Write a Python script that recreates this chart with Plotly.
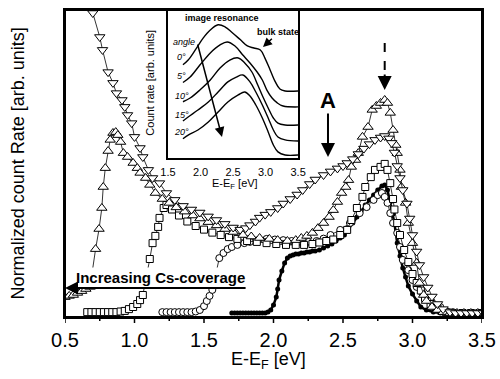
import plotly.graph_objects as go

# ---------------- main spectra: E-E_F [eV] vs normalized count rate ----------------
tri_down_x = [0.69, 0.70, 0.75, 0.77, 0.81, 0.845, 0.87, 0.91, 0.93, 0.95, 0.98, 1.00, 1.04, 1.06, 1.10, 1.13,
              1.18, 1.23, 1.29, 1.35, 1.41, 1.47, 1.53, 1.59, 1.65, 1.71, 1.76, 1.80, 1.83, 1.87, 1.90, 1.94,
              1.98, 2.03, 2.07, 2.12, 2.17, 2.21, 2.26, 2.30, 2.36, 2.41, 2.46, 2.50, 2.53, 2.57, 2.61, 2.65,
              2.69, 2.73, 2.77, 2.80, 2.83, 2.85, 2.87, 2.89, 2.91, 2.93, 2.96, 2.98, 3.00, 3.03, 3.05, 3.08,
              3.11, 3.14, 3.18, 3.22, 3.27, 3.31, 3.35, 3.39, 3.43, 3.47, 3.51]
tri_down_y = [1.05, 1.0, 0.92, 0.877, 0.803, 0.767, 0.733, 0.71, 0.687, 0.66, 0.633, 0.587, 0.55, 0.52, 0.477, 0.45,
              0.433, 0.40, 0.377, 0.357, 0.345, 0.335, 0.322, 0.31, 0.297, 0.285, 0.278, 0.283, 0.293, 0.305, 0.318, 0.328,
              0.337, 0.35, 0.365, 0.38, 0.395, 0.41, 0.43, 0.445, 0.46, 0.472, 0.482, 0.49, 0.50, 0.513, 0.53, 0.548,
              0.563, 0.577, 0.585, 0.59, 0.582, 0.567, 0.535, 0.49, 0.45, 0.41, 0.365, 0.315, 0.26, 0.205, 0.16, 0.12,
              0.085, 0.055, 0.03, 0.013, 0.003, 0.0, 0.0, 0.0, 0.0, 0.0, 0.0]

tri_up_x = [0.50, 0.53, 0.56, 0.59, 0.62, 0.65, 0.68,
            0.72, 0.745, 0.765, 0.775, 0.79, 0.81, 0.825, 0.845, 0.865, 0.88, 0.90, 0.92, 0.95, 0.99, 1.02, 1.04,
            1.08, 1.11, 1.15, 1.20, 1.25, 1.30, 1.36, 1.42, 1.47, 1.53, 1.59, 1.65, 1.71, 1.78, 1.84, 1.90, 1.97,
            2.03, 2.10, 2.16, 2.20, 2.24, 2.28, 2.32, 2.36, 2.40, 2.43, 2.46, 2.49, 2.52, 2.54, 2.56, 2.59, 2.61,
            2.64, 2.68, 2.71, 2.74, 2.77, 2.80, 2.82, 2.84, 2.86, 2.88, 2.89, 2.91, 2.92, 2.95, 2.97, 3.00, 3.03,
            3.05, 3.08, 3.10, 3.14, 3.18, 3.22, 3.27, 3.32, 3.37, 3.42, 3.47, 3.50]
tri_up_y = [0.053, 0.057, 0.06, 0.067, 0.073, 0.08, 0.087,
            0.213, 0.28, 0.35, 0.42, 0.483, 0.54, 0.577, 0.60, 0.603, 0.593, 0.57, 0.533, 0.52, 0.50, 0.483, 0.467,
            0.45, 0.427, 0.40, 0.38, 0.367, 0.352, 0.338, 0.325, 0.315, 0.303, 0.292, 0.28, 0.27, 0.26, 0.255, 0.25, 0.247,
            0.243, 0.24, 0.243, 0.25, 0.257, 0.267, 0.283, 0.30, 0.32, 0.343, 0.37, 0.40, 0.42, 0.443, 0.487, 0.51, 0.533,
            0.587, 0.62, 0.677, 0.69, 0.70, 0.71, 0.70, 0.667, 0.61, 0.56, 0.533, 0.477, 0.42, 0.367, 0.30, 0.233, 0.167,
            0.10, 0.06, 0.04, 0.02, 0.01, 0.003, 0.0, 0.0, 0.0, 0.0, 0.0, 0.0]

square_x = [0.66, 0.69, 0.72, 0.75, 0.78, 0.81, 0.84, 0.87, 0.90, 0.93, 0.96, 0.99, 1.02, 1.04, 1.06,
            1.11, 1.13, 1.15, 1.17, 1.18, 1.21, 1.23, 1.27, 1.32, 1.38, 1.44, 1.50, 1.56, 1.62, 1.68, 1.74, 1.81,
            1.88, 1.95, 2.02, 2.09, 2.16, 2.22, 2.28, 2.33, 2.38, 2.43, 2.48, 2.53, 2.56, 2.60, 2.64, 2.66, 2.70,
            2.73, 2.77, 2.80, 2.82, 2.84, 2.86, 2.87, 2.89, 2.91, 2.94, 2.97, 3.00, 3.03, 3.06, 3.09, 3.13, 3.18,
            3.24, 3.30, 3.36, 3.42, 3.48]
square_y = [0.003, 0.003, 0.003, 0.003, 0.003, 0.003, 0.003, 0.003, 0.005, 0.007, 0.013, 0.02, 0.03, 0.043, 0.06,
            0.18, 0.233, 0.257, 0.287, 0.317, 0.35, 0.36, 0.345, 0.325, 0.305, 0.29, 0.278, 0.268, 0.26, 0.253, 0.247, 0.24,
            0.237, 0.233, 0.23, 0.227, 0.227, 0.227, 0.23, 0.235, 0.24, 0.245, 0.26, 0.277, 0.31, 0.35, 0.387, 0.42, 0.453,
            0.477, 0.487, 0.497, 0.477, 0.433, 0.38, 0.345, 0.30, 0.26, 0.21, 0.17, 0.13, 0.10, 0.075, 0.05, 0.03, 0.015,
            0.003, 0.0, 0.0, 0.0, 0.0]

circle_x = [1.20, 1.23, 1.26, 1.29, 1.32, 1.35, 1.38, 1.41, 1.44, 1.47, 1.50, 1.52, 1.54, 1.56,
            1.61, 1.64, 1.67, 1.70, 1.74, 1.79, 1.83, 1.89, 1.95, 2.01, 2.07, 2.13, 2.19, 2.25, 2.31, 2.36, 2.41,
            2.48, 2.55, 2.62, 2.67, 2.72, 2.75, 2.78, 2.80, 2.82, 2.84, 2.86, 2.89, 2.91, 2.93, 2.97, 3.00, 3.03,
            3.07, 3.13, 3.20, 3.29, 3.36, 3.43, 3.50]
circle_y = [0.003, 0.003, 0.003, 0.003, 0.003, 0.003, 0.003, 0.003, 0.005, 0.01, 0.023, 0.04, 0.057, 0.077,
            0.183, 0.20, 0.213, 0.22, 0.227, 0.233, 0.237, 0.243, 0.247, 0.245, 0.243, 0.24, 0.238, 0.237, 0.24, 0.248, 0.26,
            0.277, 0.30, 0.333, 0.353, 0.377, 0.393, 0.40, 0.387, 0.367, 0.333, 0.30, 0.267, 0.22, 0.177, 0.143, 0.11, 0.087,
            0.067, 0.043, 0.02, 0.003, 0.0, 0.0, 0.0]

filled_x = [1.70, 1.72, 1.74, 1.76, 1.78, 1.80, 1.82, 1.84, 1.86, 1.88, 1.90, 1.92, 1.94, 1.96, 1.98, 2.00,
            2.02, 2.03, 2.04, 2.06, 2.08, 2.10, 2.12, 2.14, 2.16, 2.18, 2.20, 2.22, 2.24, 2.26, 2.28, 2.30, 2.33,
            2.36, 2.39, 2.42, 2.45, 2.48, 2.51, 2.54, 2.57, 2.60, 2.63, 2.66, 2.69, 2.72, 2.75, 2.78, 2.80, 2.82,
            2.84, 2.86, 2.87, 2.89, 2.91, 2.93, 2.95, 2.97, 3.00, 3.03, 3.06, 3.10, 3.15, 3.20, 3.25, 3.30, 3.35,
            3.40, 3.45, 3.50]
filled_y = [0.0, 0.0, 0.0, 0.0, 0.0, 0.0, 0.0, 0.0, 0.0, 0.0, 0.0, 0.0, 0.0, 0.003, 0.01, 0.027,
            0.053, 0.08, 0.11, 0.14, 0.167, 0.183, 0.19, 0.193, 0.197, 0.197, 0.20, 0.20, 0.203, 0.203, 0.207, 0.207, 0.21,
            0.217, 0.223, 0.23, 0.24, 0.25, 0.26, 0.28, 0.30, 0.32, 0.34, 0.36, 0.377, 0.393, 0.41, 0.423, 0.427, 0.41,
            0.37, 0.33, 0.30, 0.233, 0.19, 0.15, 0.12, 0.09, 0.063, 0.04, 0.02, 0.01, 0.003, 0.0, 0.0, 0.0, 0.0,
            0.0, 0.0, 0.0]

# axis tick values (major labelled every 0.5 eV, minor every 0.25 eV)
major_ticks = [0.5, 1.0, 1.5, 2.0, 2.5, 3.0, 3.5]
minor_ticks = [0.75, 1.25, 1.75, 2.25, 2.75, 3.25]

# ---------------- inset: angle-resolved spectra ----------------
inset_angles = ["0°", "5°", "10°", "15°", "20°"]
inset_x0 = [1.73, 1.81, 1.92, 2.04, 2.15, 2.27, 2.38, 2.48, 2.61, 2.72, 2.82, 2.92, 2.99, 3.07, 3.15, 3.22, 3.30, 3.50]
inset_y0 = [0.63, 0.662, 0.73, 0.81, 0.865, 0.90, 0.885, 0.85, 0.80, 0.757, 0.743, 0.73, 0.675, 0.595, 0.514, 0.466, 0.453, 0.453]
inset_x5 = [1.73, 1.84, 1.99, 2.15, 2.30, 2.41, 2.53, 2.65, 2.76, 2.87, 2.95, 3.02, 3.10, 3.18, 3.27, 3.50]
inset_y5 = [0.51, 0.547, 0.628, 0.71, 0.764, 0.784, 0.757, 0.696, 0.642, 0.581, 0.527, 0.459, 0.405, 0.372, 0.351, 0.345]
inset_x10 = [1.73, 1.84, 1.99, 2.15, 2.30, 2.45, 2.58, 2.68, 2.79, 2.88, 2.96, 3.04, 3.12, 3.19, 3.30, 3.50]
inset_y10 = [0.38, 0.405, 0.459, 0.527, 0.608, 0.662, 0.676, 0.642, 0.581, 0.493, 0.412, 0.338, 0.27, 0.236, 0.223, 0.223]
inset_x15 = [1.73, 1.81, 1.96, 2.12, 2.27, 2.42, 2.55, 2.65, 2.76, 2.85, 2.95, 3.04, 3.12, 3.19, 3.30, 3.50]
inset_y15 = [0.25, 0.277, 0.324, 0.378, 0.446, 0.514, 0.547, 0.561, 0.514, 0.446, 0.358, 0.27, 0.189, 0.142, 0.122, 0.115]
inset_x20 = [1.73, 1.81, 1.96, 2.12, 2.27, 2.42, 2.58, 2.68, 2.76, 2.85, 2.95, 3.04, 3.12, 3.19, 3.30, 3.50]
inset_y20 = [0.13, 0.155, 0.189, 0.243, 0.311, 0.378, 0.426, 0.446, 0.419, 0.358, 0.27, 0.176, 0.088, 0.041, 0.02, 0.02]

FONT = "Arial, Liberation Sans, sans-serif"
PLOT_H = 307.0  # plot-area height in px

fig = go.Figure()

def add_series(x, y, symbol, size, fill="white", lw=0.8, mw=1):
    fig.add_trace(go.Scatter(
        x=x, y=y, mode="lines+markers",
        line=dict(color="black", width=lw),
        marker=dict(symbol=symbol, size=size, color=fill, line=dict(color="black", width=mw)),
        showlegend=False, hoverinfo="skip"))

add_series(filled_x, filled_y, "circle", 5, fill="black", lw=2.5, mw=0)
add_series(circle_x, circle_y, "circle", 7)
add_series(square_x, square_y, "square", 7)
add_series(tri_up_x, tri_up_y, "triangle-up", 9)
add_series(tri_down_x, tri_down_y, "triangle-down", 9)

inset_sets = [(inset_x0, inset_y0), (inset_x5, inset_y5), (inset_x10, inset_y10),
              (inset_x15, inset_y15), (inset_x20, inset_y20)]
for xs, ys in inset_sets:
    fig.add_trace(go.Scatter(x=xs, y=ys, xaxis="x2", yaxis="y2", mode="lines",
                             line=dict(color="black", width=1.4, shape="spline"),
                             showlegend=False, hoverinfo="skip"))

ann = []
ann.append(dict(x=1.19, y=0.12, xref="x", yref="y", text="<b>Increasing Cs-coverage</b>",
                showarrow=False, font=dict(family=FONT, size=15, color="black"), bgcolor="white"))
ann.append(dict(x=0.5, y=0.083, ax=1.81, ay=0.083, xref="x", yref="y", axref="x", ayref="y",
                text="", showarrow=True, arrowhead=2, arrowsize=1.3, arrowwidth=2, arrowcolor="black"))
ann.append(dict(x=2.392, y=0.71, xref="x", yref="y", text="<b>A</b>", showarrow=False,
                font=dict(family=FONT, size=22, color="black")))
ann.append(dict(x=2.392, y=0.52, ax=2.392, ay=0.67, xref="x", yref="y", axref="x", ayref="y",
                text="", showarrow=True, arrowhead=2, arrowsize=1.4, arrowwidth=2, arrowcolor="black"))
ann.append(dict(x=2.80, y=0.743, ax=2.80, ay=0.80, xref="x", yref="y", axref="x", ayref="y",
                text="", showarrow=True, arrowhead=2, arrowsize=1.4, arrowwidth=2, arrowcolor="black"))
ann.append(dict(x=0.489, y=-0.143, xref="paper", yref="paper", xanchor="center", yanchor="middle",
                text="E-E<sub>F</sub> [eV]",
                showarrow=False, font=dict(family=FONT, size=18, color="black")))
ann.append(dict(x=-0.113, y=0.50, xref="paper", yref="paper", xanchor="center", yanchor="middle",
                text="Normalized count Rate [arb. units]",
                textangle=-90, showarrow=False, font=dict(family=FONT, size=18, color="black")))
ann.append(dict(x=2.33, y=0.946, xref="x2", yref="y2", text="<b>image resonance</b>", showarrow=False,
                font=dict(family=FONT, size=9, color="black")))
ann.append(dict(x=3.19, y=0.85, xref="x2", yref="y2", text="<b>bulk state</b>", showarrow=False,
                font=dict(family=FONT, size=9, color="black")))
ann.append(dict(x=2.96, y=0.75, ax=3.12, ay=0.815, xref="x2", yref="y2", axref="x2", ayref="y2",
                text="", showarrow=True, arrowhead=2, arrowsize=1.2, arrowwidth=1.5, arrowcolor="black"))
ann.append(dict(x=1.75, y=0.785, xref="x2", yref="y2", text="<i>angle</i>", showarrow=False,
                font=dict(family=FONT, size=9, color="black")))
label_pos = [0.682, 0.554, 0.419, 0.29, 0.176]
for lab, yy in zip(inset_angles, label_pos):
    ann.append(dict(x=1.71, y=yy, xref="x2", yref="y2", text="<i>" + lab + "</i>", showarrow=False,
                    font=dict(family=FONT, size=9, color="black")))
ann.append(dict(x=2.33, y=0.142, ax=1.95, ay=0.777, xref="x2", yref="y2", axref="x2", ayref="y2",
                text="", showarrow=True, arrowhead=2, arrowsize=1.3, arrowwidth=1.5, arrowcolor="black"))
ann.append(dict(x=0.408, y=0.433, xref="paper", yref="paper", xanchor="center", yanchor="middle",
                text="E-E<sub>F</sub> [eV]",
                showarrow=False, font=dict(family=FONT, size=11, color="black")))
ann.append(dict(x=0.205, y=0.765, xref="paper", yref="paper", xanchor="center", yanchor="middle",
                text="Count rate [arb. units]",
                textangle=-90, showarrow=False, font=dict(family=FONT, size=11, color="black")))

shapes = [
    dict(type="line", xref="x", yref="y", x0=2.80, x1=2.80, y0=0.90, y1=0.78,
         line=dict(color="black", width=2, dash="dash")),
    dict(type="rect", xref="paper", yref="paper", x0=0, x1=1, y0=0, y1=1, layer="above",
         line=dict(color="black", width=2), fillcolor="rgba(0,0,0,0)"),
]
# outward tick marks on the bottom axis, placed at the tick values
for vals, ln in ((major_ticks, 6), (minor_ticks, 4)):
    for v in vals:
        shapes.append(dict(type="line", xref="x", yref="paper", x0=v, x1=v, y0=0, y1=-ln / PLOT_H,
                           layer="above", line=dict(color="black", width=1.5)))

fig.update_layout(
    width=500, height=379, autosize=False,
    margin=dict(l=65, r=18, t=10, b=62, autoexpand=False),
    paper_bgcolor="white", plot_bgcolor="white",
    font=dict(family=FONT, color="black"),
    xaxis=dict(range=[0.5, 3.5], tickmode="array", tickvals=major_ticks,
               ticktext=[f"{v:.1f}" for v in major_ticks], ticks="", ticklabelstandoff=4,
               showline=True, linewidth=2, linecolor="black", mirror=True, showgrid=False, zeroline=False,
               tickfont=dict(family=FONT, size=20, color="black")),
    yaxis=dict(range=[-0.0133, 1.01], showticklabels=False, ticks="", showline=True, linewidth=2,
               linecolor="black", mirror=True, showgrid=False, zeroline=False),
    xaxis2=dict(domain=[0.247, 0.559], anchor="y2", range=[1.5, 3.5], tickmode="linear", tick0=1.5, dtick=0.5,
                tickformat=".1f", ticks="", ticklabelstandoff=3,
                showline=True, linewidth=1.5, linecolor="black", mirror=True,
                showgrid=False, zeroline=False,
                tickfont=dict(family=FONT, size=11, color="black")),
    yaxis2=dict(domain=[0.518, 1.0], anchor="x2", range=[0, 1], showticklabels=False, ticks="",
                showline=True, linewidth=1.5, linecolor="black", mirror=True, showgrid=False, zeroline=False),
    annotations=ann, shapes=shapes,
)

fig.write_html("out.html", config={"displayModeBar": False},
               post_script="document.body.style.margin='0';document.body.style.padding='0';")
